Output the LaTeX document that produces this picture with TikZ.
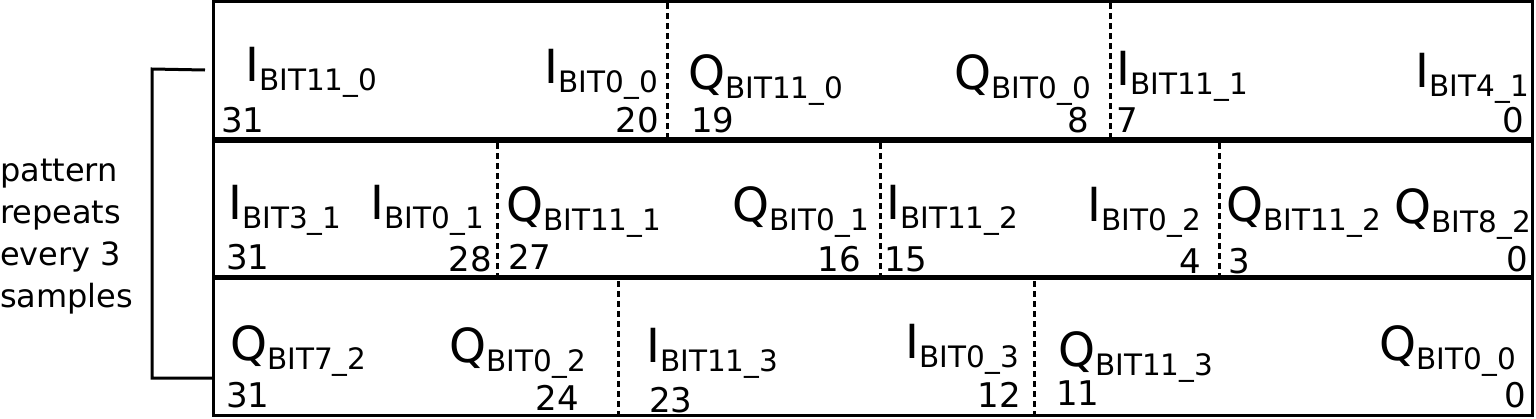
\documentclass[tikz,border=0pt]{standalone}
\usepackage{fontspec}
\setmainfont{DejaVu Sans}
\newcommand{\bitlbl}[3]{{\fontsize{47}{47}\selectfont #1}\raisebox{-9pt}{\fontsize{29.5}{29.5}\selectfont BIT#2\_#3}}
\begin{document}
\begin{tikzpicture}[x=1pt,y=-1pt,
  lblL/.style={anchor=base west,inner sep=0pt},
  lblR/.style={anchor=base east,inner sep=0pt},
  numL/.style={anchor=base west,inner sep=0pt,font=\fontsize{34}{34}\selectfont},
  numR/.style={anchor=base east,inner sep=0pt,font=\fontsize{34}{34}\selectfont},
  border/.style={line width=3pt},
  rowsep/.style={line width=5.5pt},
  divider/.style={line width=3pt,dash pattern=on 6pt off 4pt},
  bracket/.style={line width=3pt}]
\useasboundingbox (0,0) rectangle (1536,418);
% outer box and row separators
\coordinate (TL) at (213.5,1.5);
\coordinate (BR) at (1532,415.5);
\draw[border] (TL) rectangle (BR);
\coordinate (s1l) at (213.5,140); \coordinate (s1r) at (1532,140);
\coordinate (s2l) at (213.5,277.5); \coordinate (s2r) at (1532,277.5);
\draw[rowsep] (s1l) -- (s1r);
\draw[rowsep] (s2l) -- (s2r);
% dividers
\coordinate (d1a) at (667,3); \coordinate (d1b) at (667,137);
\coordinate (d2a) at (1110,3); \coordinate (d2b) at (1110,137);
\coordinate (d3a) at (497,143); \coordinate (d3b) at (497,275);
\coordinate (d4a) at (880,143); \coordinate (d4b) at (880,275);
\coordinate (d5a) at (1219,143); \coordinate (d5b) at (1219,275);
\coordinate (d6a) at (618,281); \coordinate (d6b) at (618,414);
\coordinate (d7a) at (1034,281); \coordinate (d7b) at (1034,414);
\foreach \d in {1,...,7} \draw[divider] (d\d a) -- (d\d b);
% bracket
\coordinate (b1) at (205,70);
\coordinate (b2) at (152,69);
\coordinate (b3) at (152,378);
\coordinate (b4) at (212,378);
\draw[bracket] (b1) -- (b2) -- (b3) -- (b4);
% side text
\node[anchor=north west,inner sep=0pt,align=left,font=\fontsize{32}{42}\selectfont] (side) at (0,159)
  {pattern\\repeats\\every 3\\samples};
% row 1
\node[lblL] (r1a) at (245,81) {\bitlbl{I}{11}{0}};
\node[lblR] (r1b) at (658,83) {\bitlbl{I}{0}{0}};
\node[lblL] (r1c) at (688,89) {\bitlbl{Q}{11}{0}};
\node[lblR] (r1d) at (1091,89) {\bitlbl{Q}{0}{0}};
\node[lblL] (r1e) at (1116,85) {\bitlbl{I}{11}{1}};
\node[lblR] (r1f) at (1529,87) {\bitlbl{I}{4}{1}};
\node[numL] (n1a) at (221,132) {31};
\node[numR] (n1b) at (659,132) {20};
\node[numL] (n1c) at (691,132) {19};
\node[numR] (n1d) at (1089,132) {8};
\node[numL] (n1e) at (1116,132) {7};
\node[numR] (n1f) at (1524,132) {0};
% row 2
\node[lblL] (r2a) at (228,219) {\bitlbl{I}{3}{1}};
\node[lblR] (r2b) at (484,219) {\bitlbl{I}{0}{1}};
\node[lblL] (r2c) at (506,221) {\bitlbl{Q}{11}{1}};
\node[lblR] (r2d) at (869,221) {\bitlbl{Q}{0}{1}};
\node[lblL] (r2e) at (886,219) {\bitlbl{I}{11}{2}};
\node[lblR] (r2f) at (1201,221) {\bitlbl{I}{0}{2}};
\node[lblL] (r2g) at (1226,221) {\bitlbl{Q}{11}{2}};
\node[lblR] (r2h) at (1531,223) {\bitlbl{Q}{8}{2}};
\node[numL] (n2a) at (226,269) {31};
\node[numR] (n2b) at (492,271) {28};
\node[numL] (n2c) at (508,269) {27};
\node[numR] (n2d) at (861,271) {16};
\node[numL] (n2e) at (884,271) {15};
\node[numR] (n2f) at (1201,273) {4};
\node[numL] (n2g) at (1228,273) {3};
\node[numR] (n2h) at (1528,271) {0};
% row 3
\node[lblL] (r3a) at (230,360) {\bitlbl{Q}{7}{2}};
\node[lblR] (r3b) at (586,362) {\bitlbl{Q}{0}{2}};
\node[lblL] (r3c) at (646,362) {\bitlbl{I}{11}{3}};
\node[lblR] (r3d) at (1019,358) {\bitlbl{I}{0}{3}};
\node[lblL] (r3e) at (1058,366) {\bitlbl{Q}{11}{3}};
\node[lblR] (r3f) at (1516,360) {\bitlbl{Q}{0}{0}};
\node[numL] (n3a) at (226,407) {31};
\node[numR] (n3b) at (579,410) {24};
\node[numL] (n3c) at (649,412) {23};
\node[numR] (n3d) at (1021,407) {12};
\node[numL] (n3e) at (1056,405) {11};
\node[numR] (n3f) at (1526,407) {0};
\end{tikzpicture}
\end{document}
